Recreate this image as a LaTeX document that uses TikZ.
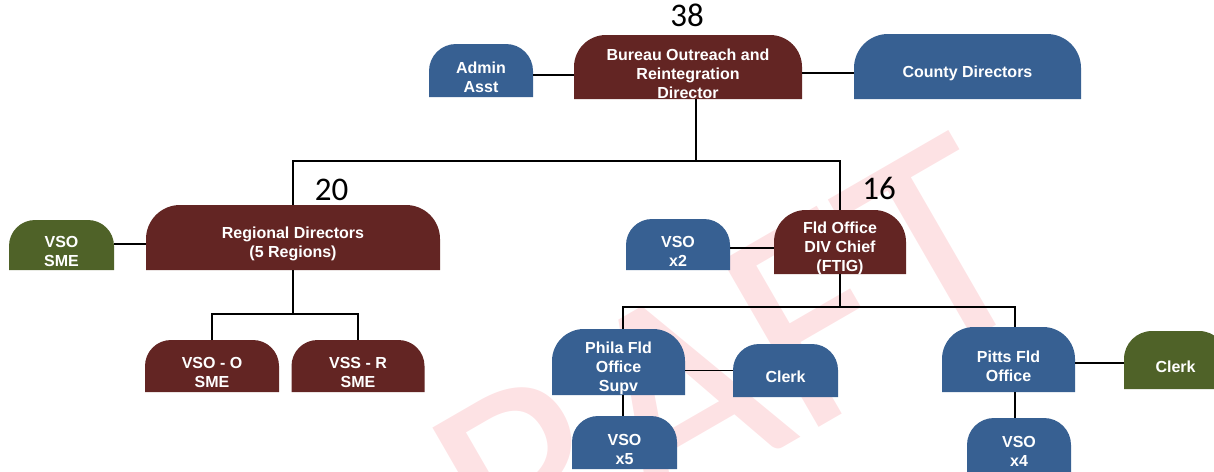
\documentclass[tikz,border=0pt]{standalone}
\usepackage{fontspec}
\setmainfont{Liberation Sans}
\newfontfamily\numfont{Carlito}
\newfontfamily\wmfont{Carlito}
\definecolor{orgred}{RGB}{99,37,35}
\definecolor{orgblue}{RGB}{55,96,146}
\definecolor{orggreen}{RGB}{79,98,40}
\definecolor{wmpink}{RGB}{253,226,228}
\tikzset{
  corner/.store in=\boxr, corner=26pt,
  orgbox/.style={inner sep=0pt, outer sep=0pt,
    path picture={\fill[#1] (path picture bounding box.south west)
      -- ([yshift=-\boxr]path picture bounding box.north west)
      arc[start angle=180,end angle=90,radius=\boxr]
      -- ([xshift=-\boxr]path picture bounding box.north east)
      arc[start angle=90,end angle=0,radius=\boxr]
      -- (path picture bounding box.south east) -- cycle;}},
  boxtext/.style={text=white, align=center, yshift=-6.5pt, inner sep=0pt,
    font=\bfseries\fontsize{16}{19}\selectfont},
  conn/.style={line width=1.8pt, black},
  count/.style={anchor=base, inner sep=0pt, font=\numfont\fontsize{33}{33}\selectfont},
  wm/.style={text=wmpink, inner sep=0pt, font=\wmfont\fontsize{300}{300}\selectfont}
}
\begin{document}
\begin{tikzpicture}[x=1pt,y=1pt]
\useasboundingbox (0,0) rectangle (1214,-471);
\clip (0,0) rectangle (1214,-471);

% watermark behind everything
\node[wm, rotate=30, anchor=base east] (draft) at (1048,-295) {DRAFT};

% top level
\node[orgbox=orgblue, corner=27pt, minimum width=104pt, minimum height=53pt,
  label={[boxtext]center:{Admin\\Asst}}] (admin) at (481,-70.5) {};
\node[orgbox=orgred, corner=32pt, minimum width=228pt, minimum height=64pt,
  label={[boxtext]center:{Bureau Outreach and\\Reintegration\\Director}}] (bureau) at (688,-67) {};
\node[orgbox=orgblue, corner=34pt, minimum width=227pt, minimum height=65pt,
  label={[boxtext]center:{County Directors}}] (county) at (967.5,-66.5) {};

% second level
\node[orgbox=orgred, corner=34pt, minimum width=294pt, minimum height=65pt,
  label={[boxtext]center:{Regional Directors\\(5 Regions)}}] (regional) at (293,-237.5) {};
\node[orgbox=orggreen, corner=26pt, minimum width=105pt, minimum height=50pt,
  label={[boxtext]center:{VSO\\SME}}] (vsosme) at (61.5,-245) {};
\node[orgbox=orgblue, corner=26pt, minimum width=104pt, minimum height=51pt,
  label={[boxtext]center:{VSO\\x2}}] (vsox2) at (678,-244.5) {};
\node[orgbox=orgred, corner=32pt, minimum width=132pt, minimum height=64pt,
  label={[boxtext]center:{Fld Office\\DIV Chief\\(FTIG)}}] (fldchief) at (840,-242) {};

% third level
\node[orgbox=orgred, corner=26pt, minimum width=134pt, minimum height=52pt,
  label={[boxtext]center:{VSO - O\\SME}}] (vsoo) at (212,-366) {};
\node[orgbox=orgred, corner=26pt, minimum width=133pt, minimum height=52pt,
  label={[boxtext]center:{VSS - R\\SME}}] (vssr) at (358,-366) {};
\node[orgbox=orgblue, corner=32pt, minimum width=133pt, minimum height=66pt,
  label={[boxtext]center:{Phila Fld\\Office\\Supv}}] (phila) at (618.5,-362) {};
\node[orgbox=orgblue, corner=26pt, minimum width=105pt, minimum height=53pt,
  label={[boxtext]center:{Clerk}}] (clerka) at (785.5,-370.5) {};
\node[orgbox=orgblue, corner=26pt, minimum width=105pt, minimum height=53pt,
  label={[boxtext]center:{VSO\\x5}}] (vsox5) at (624.5,-442.5) {};
\node[orgbox=orgblue, corner=32pt, minimum width=133pt, minimum height=65pt,
  label={[boxtext]center:{Pitts Fld\\Office}}] (pitts) at (1008.5,-359.5) {};
\node[orgbox=orggreen, corner=28pt, minimum width=103pt, minimum height=58pt,
  label={[boxtext]center:{Clerk}}] (clerkb) at (1175.5,-360) {};
\node[orgbox=orgblue, corner=27pt, minimum width=104pt, minimum height=54pt,
  label={[boxtext]center:{VSO\\x4}}] (vsox4) at (1019,-445) {};

% head counts
\node[count] (n38) at (687,-27) {38};
\node[count] (n20) at (331.5,-200) {20};
\node[count] (n16) at (879,-199) {16};

% junction points of the tree
\coordinate (hub1) at (696,-161);
\coordinate (hub2) at (293,-314);
\coordinate (philax) at (623,-307);
\coordinate (pittsx) at (1015,-307);

% connectors
\draw[conn] ([yshift=-4.5pt]admin.east) -- ([yshift=-4.5pt]admin.east -| bureau.west);
\draw[conn] ([yshift=-6pt]bureau.east) -- ([yshift=-6pt]bureau.east -| county.west);
\draw[conn] (bureau.south -| hub1) -- (hub1);
\draw[conn] (regional.north) |- (hub1) -| (fldchief.north);
\draw[conn] ([yshift=1pt]vsosme.east) -- ([yshift=1pt]vsosme.east -| regional.west);
\draw[conn] ([yshift=-3.5pt]vsox2.east) -- ([yshift=-3.5pt]vsox2.east -| fldchief.west);
\draw[conn] (regional.south) -- (hub2);
\draw[conn] (vsoo.north) |- (hub2) -| (vssr.north);
\draw[conn] (fldchief.south) -- (fldchief.south |- philax);
\draw[conn] (phila.north -| philax) -- (philax) -- (pittsx) -- (pitts.north -| pittsx);
\draw[conn] (clerka.west) -- (clerka.west -| phila.east);
\draw[conn] (phila.south -| philax) -- (vsox5.north -| philax);
\draw[conn] ([yshift=-3pt]clerkb.west) -- ([yshift=-3pt]clerkb.west -| pitts.east);
\draw[conn] (pitts.south -| pittsx) -- (vsox4.north -| pittsx);
\end{tikzpicture}
\end{document}
